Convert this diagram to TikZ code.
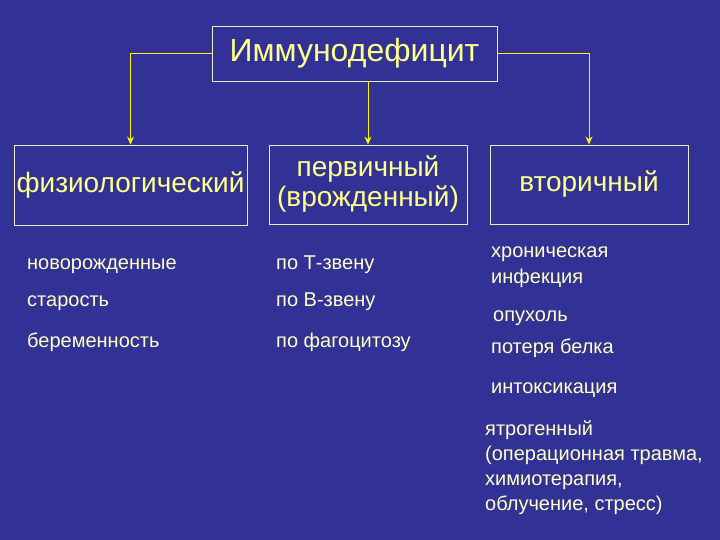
\documentclass[tikz,border=0pt]{standalone}
\usepackage{fontspec}
\setmainfont{Liberation Sans}
\usetikzlibrary{arrows.meta,positioning}
\definecolor{slidebg}{RGB}{50,50,150}
\definecolor{paleyel}{RGB}{255,255,140}
\definecolor{itemtxt}{RGB}{255,255,200}
\definecolor{frame}{RGB}{235,235,200}
\tikzset{%
	headbox/.style = {draw=frame, line width=0.9pt, rectangle, text=paleyel, inner sep=0pt, align=center},
	item/.style    = {anchor=base west, text=itemtxt, inner sep=0pt, align=left, font=\fontsize{20}{25}\selectfont},
	arrow/.style   = {draw=yellow, line width=1pt, -{Stealth[length=8pt,width=7pt]}},
}
\begin{document}
\begin{tikzpicture}[x=1pt,y=-1pt]
	\fill[slidebg] (0,0) rectangle (720,540);
	\useasboundingbox (0,0) rectangle (720,540);
	% head box
	\node[headbox, minimum width=285pt, minimum height=55pt, font=\fontsize{32}{34}\selectfont] (imm) at (354.5,53.5) {Иммунодефицит};
	% three kinds
	\node[headbox, minimum width=233pt, minimum height=80pt, font=\fontsize{28}{30}\selectfont] (phys) at (130.5,185) {физиологический};
	\node[headbox, minimum width=198pt, minimum height=79pt, font=\fontsize{28}{30}\selectfont] (prim) at (368,184.5) {первичный\\(врожденный)};
	\node[headbox, minimum width=198pt, minimum height=79pt, font=\fontsize{28}{30}\selectfont] (sec) at (589,184.5) {вторичный};
	\draw[arrow] (imm.west) -| (phys.north);
	\draw[arrow] (imm.east) -| (sec.north);
	\draw[arrow] (imm.south -| prim.north) -- (prim.north);
	% physiological
	\node[item] (newb) at (27,269) {новорожденные};
	\node[item] (old) at (27,306) {старость};
	\node[item] (preg) at (27,347) {беременность};
	% primary
	\node[item] (tcell) at (276,269) {по Т-звену};
	\node[item] (bcell) at (276,306) {по В-звену};
	\node[item] (phag) at (276,347) {по фагоцитозу};
	% secondary (base = last line)
	\node[item] (infect) at (491,283) {хроническая\\инфекция};
	\node[item] (tumor) at (493,321) {опухоль};
	\node[item] (prot) at (491,353) {потеря белка};
	\node[item] (tox) at (491,393) {интоксикация};
	\node[item] (iatro) at (485,510) {ятрогенный\\(операционная травма,\\химиотерапия,\\облучение, стресс)};
\end{tikzpicture}
\end{document}
